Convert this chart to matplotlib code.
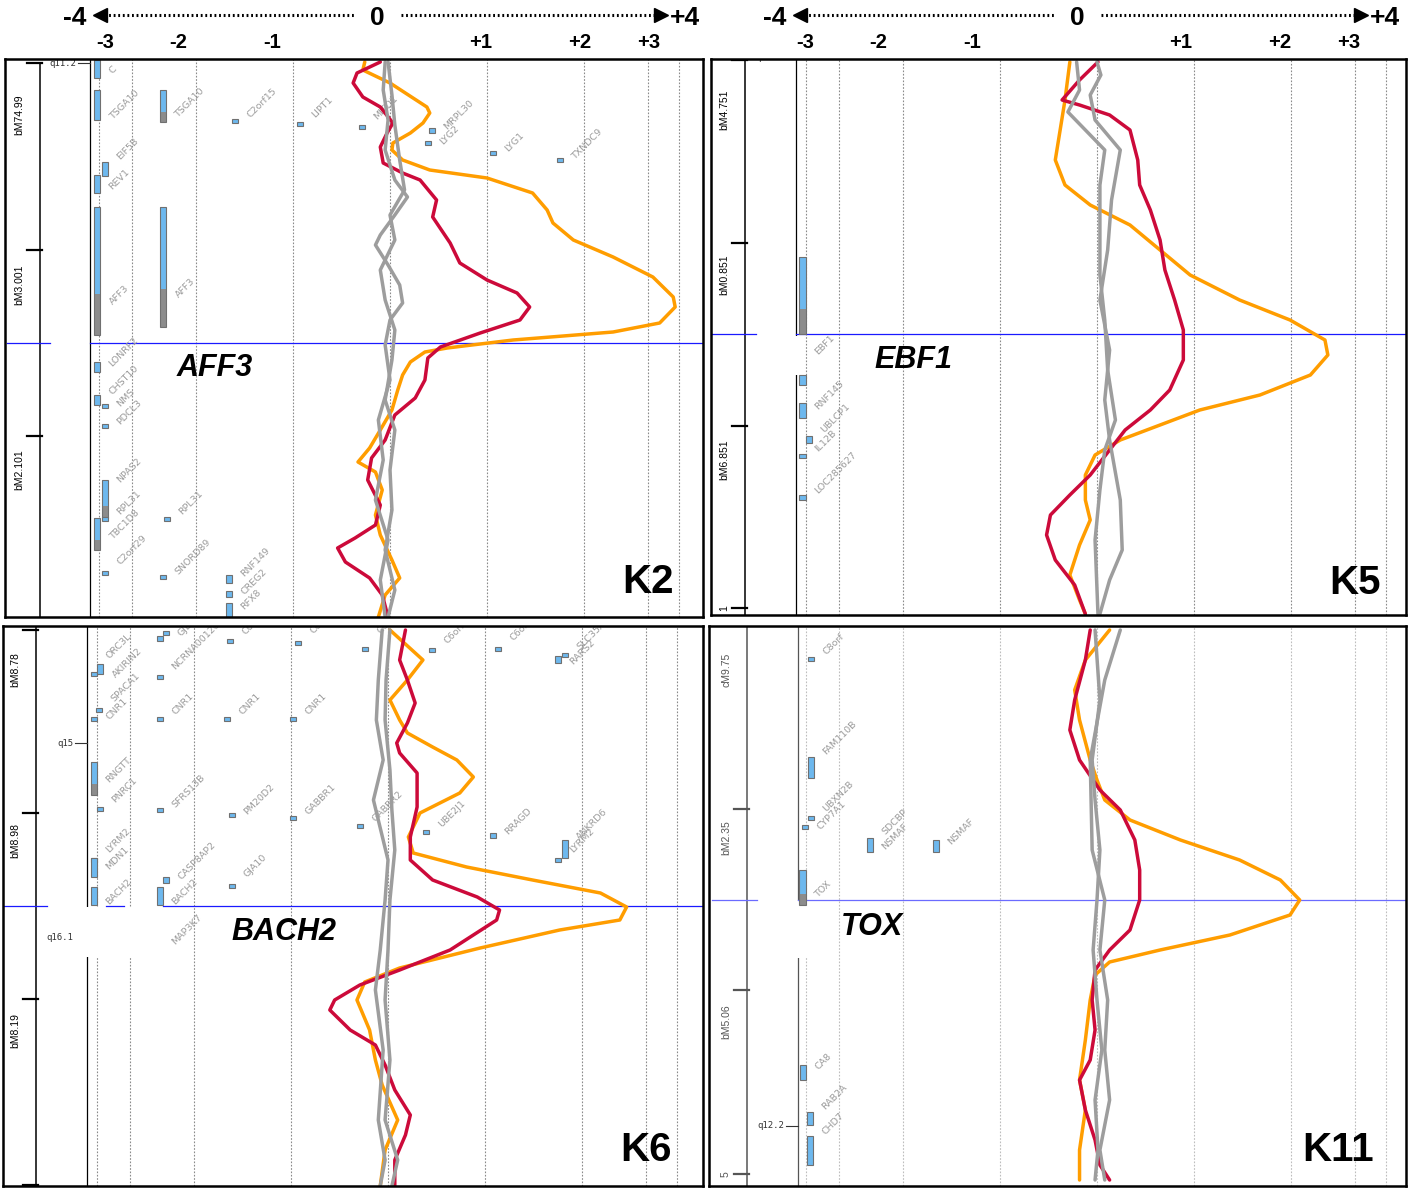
import matplotlib
matplotlib.use("Agg")
import matplotlib.pyplot as plt
import matplotlib.transforms as mtransforms
from matplotlib.patches import Rectangle

W, H = 1408, 1188
PX_PER_UNIT = 97.0   # pixels per score unit in every panel

ORANGE = "#FF9D00"
RED = "#CC0A3A"
GRAY = "#9D9D9D"
BAR_BLUE = "#6DB8EE"
BAR_GRAY = "#8C8C8C"
LABEL_GRAY = "#9B9B9B"

# score gridlines drawn in every panel
grid_scores = [-3, -2.66, -2, -1, 0, 1, 2, 2.66, 2.98]

header_big = ["-4", "0", "+4"]
header_ticks = ["-3", "-2", "-1", "+1", "+2", "+3"]

# ---------------------------------------------------------------- K2 / AFF3
# curves: (score, position) ; position in 10 kb steps from top of window
k2_orange = [(-0.26, 0.3), (-0.28, 1.1), (0.0, 2.4), (0.38, 4.8), (0.41, 5.4), (0.34, 6.4),
             (0.21, 7.4), (0.03, 8.4), (0.02, 9.1), (0.13, 10.1), (0.41, 11.1), (1.0, 11.9),
             (1.47, 13.4), (1.62, 15.1), (1.68, 16.4), (1.89, 18.1), (2.30, 19.8), (2.71, 21.8),
             (2.92, 23.8), (2.94, 24.8), (2.78, 26.4), (2.30, 27.3), (1.27, 28.1), (0.59, 28.9),
             (0.36, 29.3), (0.21, 30.3), (0.13, 31.6), (0.08, 33.1), (0.02, 35.1), (-0.10, 37.1),
             (-0.21, 38.9), (-0.33, 40.3), (-0.15, 41.3), (-0.08, 43.1), (-0.15, 45.6),
             (-0.10, 47.6), (0.02, 50.1), (0.10, 51.9), (-0.05, 53.6), (-0.12, 55.8)]
k2_red = [(-0.10, 0.3), (-0.34, 1.4), (-0.38, 2.4), (-0.28, 3.8), (-0.10, 4.8), (0.03, 6.4),
          (-0.03, 7.4), (-0.10, 8.8), (-0.07, 10.4), (0.13, 11.4), (0.31, 12.1), (0.48, 14.1),
          (0.44, 15.8), (0.62, 18.4), (0.72, 20.4), (1.0, 22.1), (1.31, 23.4), (1.44, 24.8),
          (1.34, 26.1), (0.93, 27.4), (0.52, 28.8), (0.39, 29.9), (0.36, 32.1), (0.26, 33.9),
          (0.05, 35.6), (-0.05, 38.1), (-0.19, 39.9), (-0.23, 42.1), (-0.10, 44.6),
          (-0.15, 46.6), (-0.36, 47.9), (-0.54, 48.9), (-0.46, 50.3), (-0.21, 51.9),
          (-0.08, 53.6), (-0.02, 55.8)]
k2_gray1 = [(-0.05, 0.3), (-0.07, 3.1), (-0.02, 6.1), (-0.05, 9.1), (0.05, 12.1), (0.18, 13.8),
            (0.05, 15.6), (-0.10, 17.6), (-0.15, 18.6), (-0.02, 20.6), (0.10, 22.6), (0.13, 24.4),
            (0.0, 26.1), (-0.05, 28.6), (0.0, 32.1), (-0.12, 36.1), (-0.07, 40.1), (-0.15, 44.1),
            (-0.02, 48.1), (-0.10, 52.1), (-0.05, 55.8)]
k2_gray2 = [(-0.02, 0.3), (0.02, 3.6), (0.05, 6.6), (0.10, 10.1), (0.15, 13.1), (0.0, 15.6),
            (0.05, 18.1), (-0.10, 21.1), (-0.05, 24.1), (0.05, 27.1), (0.02, 30.1), (-0.05, 34.1),
            (0.05, 37.1), (0.0, 41.1), (0.02, 45.1), (-0.05, 49.1), (0.05, 53.1), (-0.02, 55.8)]
# genes: (name, column score, top, bottom, label position)
k2_genes = [("C", -3.02, 0.1, 1.9, 1.5), ("TSGA10", -3.02, 3.1, 6.1, 6.1),
            ("EIF5B", -2.94, 10.3, 11.7, 10.1), ("REV1", -3.02, 11.6, 13.4, 13.1),
            ("AFF3", -3.02, 14.8, 27.6, 24.6), ("LONRF2", -3.02, 30.3, 31.3, 30.8),
            ("CHST10", -3.02, 33.6, 34.6, 33.6), ("NMS", -2.94, 34.5, 34.9, 34.8),
            ("PDCL3", -2.94, 36.5, 36.9, 36.6), ("NPAS2", -2.94, 42.1, 45.9, 42.4),
            ("RPL31", -2.94, 45.8, 46.2, 45.6), ("TBC1D8", -3.02, 45.9, 49.1, 48.1),
            ("C2orf29", -2.94, 51.2, 51.6, 50.6), ("TSGA10", -2.34, 3.1, 6.3, 5.9),
            ("AFF3", -2.34, 14.8, 26.8, 23.9), ("RPL31", -2.30, 45.8, 46.1, 45.6),
            ("SNORD89", -2.34, 51.6, 51.9, 51.6), ("C2orf15", -1.60, 6.0, 6.4, 5.9),
            ("RNF149", -1.66, 51.6, 52.4, 51.8), ("CREG2", -1.66, 53.2, 53.8, 53.6),
            ("RFX8", -1.66, 54.4, 55.8, 55.1), ("LIPT1", -0.93, 6.3, 6.7, 5.9),
            ("MITD1", -0.29, 6.6, 7.0, 6.1), ("MRPL30", 0.43, 6.9, 7.4, 7.1),
            ("LYG2", 0.39, 8.2, 8.5, 8.6), ("LYG1", 1.06, 9.2, 9.6, 9.3),
            ("TXNDC9", 1.75, 9.9, 10.3, 10.1)]
k2_ruler_ticks = [0.4, 19.1, 37.7]
k2_ruler_labels = [("bM74.99", 5.6), ("bM3.001", 22.6), ("bM2.101", 41.1)]
k2_bands = [("q11.2", 0.4)]

# ---------------------------------------------------------------- K5 / EBF1
k5_orange = [(-0.28, 0.3), (-0.33, 4.1), (-0.38, 7.1), (-0.43, 10.1), (-0.33, 12.6),
             (-0.07, 14.6), (0.34, 16.6), (0.65, 19.1), (0.96, 21.6), (1.47, 24.1), (1.99, 26.1),
             (2.35, 28.1), (2.38, 29.6), (2.20, 31.6), (1.68, 33.6), (1.06, 35.1), (0.65, 36.6),
             (0.24, 38.1), (-0.02, 39.6), (-0.12, 41.6), (-0.12, 44.1), (-0.07, 46.1),
             (-0.18, 48.6), (-0.28, 51.6), (-0.18, 54.1), (-0.12, 55.5)]
k5_red = [(0.01, 0.3), (-0.18, 2.1), (-0.36, 4.1), (-0.18, 4.6), (0.13, 5.6), (0.34, 7.1),
          (0.42, 10.1), (0.44, 12.6), (0.55, 15.1), (0.65, 18.1), (0.70, 21.1), (0.80, 24.1),
          (0.89, 27.1), (0.89, 30.1), (0.75, 33.1), (0.55, 35.1), (0.29, 37.1), (0.13, 39.1),
          (-0.07, 41.6), (-0.28, 43.6), (-0.48, 45.6), (-0.52, 47.6), (-0.43, 50.1),
          (-0.23, 52.6), (-0.12, 55.5)]
k5_gray1 = [(-0.21, 0.3), (-0.18, 3.1), (-0.30, 5.3), (-0.12, 7.1), (0.08, 9.1), (0.03, 12.6),
            (0.03, 17.1), (0.03, 21.6), (0.08, 26.1), (0.11, 31.1), (0.19, 36.1), (0.08, 39.1),
            (0.03, 43.1), (-0.02, 48.1), (0.01, 55.5)]
k5_gray2 = [(0.0, 0.3), (0.04, 1.6), (-0.07, 3.6), (-0.02, 6.1), (0.24, 9.1), (0.15, 14.1),
            (0.11, 19.1), (0.03, 24.1), (0.13, 29.1), (0.08, 34.1), (0.13, 38.1), (0.24, 44.1),
            (0.26, 49.1), (0.13, 52.1), (0.03, 55.5)]
k5_genes = [("EBF1", -3.04, 19.8, 27.5, 29.6), ("", -3.04, 31.6, 32.6, 0),
            ("RNF145", -3.04, 34.4, 35.9, 35.1), ("UBLCP1", -2.97, 37.7, 38.4, 37.4),
            ("IL12B", -3.04, 39.5, 39.9, 39.3), ("LOC285627", -3.04, 43.6, 44.1, 43.5)]
k5_ruler_ticks = [0.1, 18.4, 36.7, 54.9]
k5_ruler_labels = [("bM4.751", 5.1), ("bM0.851", 21.6), ("bM6.851", 40.1), ("1", 54.9)]
k5_bands = [("q33.3", -0.2)]

# ---------------------------------------------------------------- K6 / BACH2
k6_orange = [(0.02, 0.4), (0.36, 3.4), (0.20, 5.4), (0.02, 7.4), (0.12, 9.4), (0.20, 10.7),
             (0.46, 12.1), (0.71, 13.4), (0.88, 15.1), (0.74, 16.7), (0.33, 18.7), (0.21, 21.1),
             (0.26, 22.7), (0.81, 24.1), (1.49, 25.4), (2.19, 26.7), (2.46, 28.1), (2.39, 29.4),
             (1.77, 30.4), (0.95, 32.2), (0.12, 34.2), (-0.24, 35.6), (-0.32, 37.4),
             (-0.19, 40.4), (-0.13, 43.4), (-0.06, 45.9), (0.10, 49.4), (-0.03, 52.4),
             (-0.08, 56.0)]
k6_red = [(0.18, 0.4), (0.12, 3.4), (0.20, 5.4), (0.28, 7.7), (0.20, 9.7), (0.09, 11.7),
          (0.12, 12.7), (0.30, 14.7), (0.30, 18.1), (0.23, 21.1), (0.23, 23.4), (0.46, 25.4),
          (0.92, 27.1), (1.15, 28.4), (1.12, 29.4), (0.64, 32.4), (0.12, 34.4), (-0.29, 35.9),
          (-0.55, 37.4), (-0.60, 38.4), (-0.39, 40.4), (-0.13, 41.9), (-0.03, 43.9),
          (0.07, 46.4), (0.23, 48.9), (0.18, 50.9), (0.07, 53.4), (0.07, 56.0)]
k6_gray1 = [(-0.06, 0.4), (-0.10, 5.4), (-0.12, 9.4), (-0.05, 13.4), (-0.15, 17.4),
            (-0.10, 19.4), (0.0, 23.4), (-0.03, 27.4), (-0.08, 32.4), (-0.13, 36.4),
            (-0.05, 42.4), (-0.10, 49.4), (-0.03, 53.4), (-0.08, 56.0)]
k6_gray2 = [(0.02, 0.4), (-0.02, 5.4), (-0.03, 9.4), (0.02, 14.4), (0.04, 18.4), (0.07, 22.4),
            (0.02, 27.4), (0.0, 32.4), (-0.03, 37.4), (0.02, 43.4), (-0.03, 49.4),
            (0.10, 53.4), (0.04, 56.0)]
k6_genes = [("GJB", -2.29, 0.5, 0.9, 1.1), ("", -2.35, 1.0, 1.5, 0),
            ("C6orf", -1.63, 1.3, 1.6, 0.9), ("C6orf", -0.93, 1.5, 1.8, 0.8),
            ("C6orf", -0.24, 2.1, 2.4, 0.8), ("C6orf", 0.45, 2.2, 2.6, 1.8),
            ("C6orf", 1.13, 2.1, 2.3, 1.5), ("SLC35A", 1.82, 2.7, 3.1, 2.4),
            ("RARS2", 1.75, 3.0, 3.7, 3.9), ("ORC3L", -3.03, 4.6, 5.0, 3.3),
            ("AKIRIN2", -2.97, 3.8, 4.8, 5.2), ("NCRNA00120", -2.35, 4.9, 5.2, 4.4),
            ("SPACA1", -2.98, 8.2, 8.4, 7.6), ("CNR1", -3.03, 9.1, 9.3, 9.4),
            ("CNR1", -2.35, 9.1, 9.3, 8.9), ("CNR1", -1.66, 9.1, 9.3, 8.9),
            ("CNR1", -0.98, 9.1, 9.3, 8.9), ("RNGTT", -3.03, 13.6, 16.9, 15.7),
            ("PNRC1", -2.97, 18.1, 18.3, 17.7), ("SFRS13B", -2.35, 18.2, 18.5, 18.2),
            ("PM20D2", -1.61, 18.7, 18.9, 18.9), ("GABBR1", -0.98, 19.0, 19.4, 18.9),
            ("GABRR2", -0.29, 19.8, 20.2, 19.6), ("UBE2J1", 0.39, 20.4, 20.6, 20.2),
            ("RRAGD", 1.08, 20.7, 21.2, 20.9), ("ANKRD6", 1.82, 21.4, 23.2, 21.4),
            ("LYRM2", 1.75, 23.2, 23.4, 22.7), ("LYRM2", -3.03, 23.2, 23.4, 22.7),
            ("MDN1", -3.03, 23.2, 25.1, 24.4), ("CASP8AP2", -2.29, 25.1, 25.7, 25.4),
            ("GJA10", -1.61, 25.8, 26.0, 25.2), ("BACH2", -3.03, 26.1, 27.9, 27.9),
            ("BACH2", -2.35, 26.1, 27.9, 27.9), ("MAP3K7", -2.35, 0, 0, 31.9)]
k6_ruler_ticks = [0.4, 18.7, 37.3, 55.9]
k6_ruler_labels = [("bM8.78", 4.4), ("bM8.98", 21.4), ("bM8.19", 40.4)]
k6_bands = [("q15", 11.7), ("q16.1", 31.1)]

# ---------------------------------------------------------------- K11 / TOX
k11_orange = [(0.13, 0.4), (-0.12, 3.4), (-0.23, 6.4), (-0.18, 9.4), (-0.07, 13.4), (0.0, 15.4),
              (0.08, 17.4), (0.34, 19.4), (0.86, 21.4), (1.47, 23.4), (1.89, 25.4), (2.09, 27.4),
              (1.99, 28.9), (1.37, 30.9), (0.65, 32.4), (0.13, 33.6), (-0.02, 34.9),
              (-0.07, 37.4), (-0.12, 41.4), (-0.18, 45.4), (-0.12, 48.4), (-0.18, 52.4),
              (-0.18, 55.4)]
k11_red = [(-0.07, 0.4), (-0.12, 3.4), (-0.23, 7.4), (-0.28, 10.4), (-0.18, 13.4), (0.03, 16.4),
           (0.24, 18.4), (0.39, 21.4), (0.44, 24.4), (0.44, 27.4), (0.34, 30.4), (0.13, 32.4),
           (-0.02, 34.4), (-0.05, 37.4), (-0.02, 40.4), (-0.07, 43.4), (-0.18, 45.4),
           (-0.12, 48.4), (-0.02, 51.4), (0.03, 53.9), (0.13, 55.4)]
k11_gray1 = [(-0.02, 0.4), (0.03, 7.4), (-0.05, 13.4), (-0.02, 17.4), (0.03, 22.4), (0.0, 27.4),
             (-0.04, 32.4), (0.0, 37.4), (0.05, 42.4), (-0.02, 47.4), (0.01, 52.4),
             (-0.02, 55.4)]
k11_gray2 = [(0.24, 0.4), (0.08, 5.4), (-0.07, 13.4), (-0.05, 22.4), (0.08, 27.4), (0.03, 32.4),
             (0.11, 37.4), (0.08, 42.4), (0.13, 47.4), (0.03, 52.4), (0.08, 55.4)]
k11_genes = [("C8orf", -2.95, 3.1, 3.3, 2.9), ("FAM110B", -2.95, 13.1, 15.2, 12.9),
             ("UBXN2B", -2.95, 19.0, 19.4, 18.6), ("CYP7A1", -3.01, 19.9, 20.1, 20.4),
             ("SDCBP", -2.34, 21.2, 22.6, 20.9), ("NSMAF", -2.34, 0, 0, 22.4),
             ("NSMAF", -1.66, 21.4, 22.6, 21.9), ("TOX", -3.04, 24.4, 27.9, 27.2),
             ("CA8", -3.03, 43.9, 45.4, 44.4), ("RAB2A", -2.96, 48.6, 49.9, 48.4),
             ("CHD7", -2.96, 51.0, 53.9, 50.9)]
k11_ruler_ticks = [18.3, 36.4, 54.8]
k11_ruler_labels = [("cM9.75", 4.4), ("bM2.35", 21.2), ("bM5.06", 39.6), ("5", 54.8)]
k11_bands = [("q12.2", 50.0)]

# panel layout (figure pixels for box, local panel pixels for the rest)
panels = [
    dict(name="K2", gene="AFF3", box=(5, 59, 703, 617), zero=385, hit=28.4,
         curves=(k2_orange, k2_red, k2_gray1, k2_gray2), genes=k2_genes,
         ruler=(k2_ruler_ticks, k2_ruler_labels), bands=k2_bands,
         ruler_x=35, track_x=85, blue=[(2, 45), (85, 698)], white=[],
         gene_xy=(210, 309), k_xy=(643, 523), grid="#8A8A8A", line="#1A1AFF", rcol="black"),
    dict(name="K5", gene="EBF1", box=(711, 59, 1406, 615), zero=386, hit=27.5,
         curves=(k5_orange, k5_red, k5_gray1, k5_gray2), genes=k5_genes,
         ruler=(k5_ruler_ticks, k5_ruler_labels), bands=k5_bands,
         ruler_x=34, track_x=85, blue=[(1, 45), (85, 695)], white=[(46, 277, 44, 39)],
         gene_xy=(202, 301), k_xy=(644, 524), grid="#8A8A8A", line="#1A1AFF", rcol="black"),
    dict(name="K6", gene="BACH2", box=(3, 626, 703, 1186), zero=385, hit=28.0,
         curves=(k6_orange, k6_red, k6_gray1, k6_gray2), genes=k6_genes,
         ruler=(k6_ruler_ticks, k6_ruler_labels), bands=k6_bands,
         ruler_x=33, track_x=84, blue=[(0, 44), (103, 121), (160, 700)],
         white=[(42, 281, 118, 50)],
         gene_xy=(281, 306), k_xy=(643, 524), grid="#8A8A8A", line="#1A1AFF", rcol="black"),
    dict(name="K11", gene="TOX", box=(709, 626, 1406, 1186), zero=388, hit=27.4,
         curves=(k11_orange, k11_red, k11_gray1, k11_gray2), genes=k11_genes,
         ruler=(k11_ruler_ticks, k11_ruler_labels), bands=k11_bands,
         ruler_x=38, track_x=89, blue=[(3, 48), (89, 697)], white=[(50, 275, 49, 57)],
         gene_xy=(163, 301), k_xy=(629, 524), grid="#BDBDBD", line="#6B6BFF", rcol="#555555"),
]

NARROW = ["Liberation Sans Narrow", "Liberation Sans", "DejaVu Sans"]
SANS = ["Liberation Sans", "DejaVu Sans"]


def draw_panel(fig, cfg):
    L, T, R, B = cfg["box"]
    w, h = R - L, B - T
    ax = fig.add_axes([L / W, 1 - B / H, w / W, h / H])
    z = cfg["zero"]
    ax.set_xlim(-z / PX_PER_UNIT, (w - z) / PX_PER_UNIT)
    ax.set_ylim(h / 10.0, 0)
    ax.set_xticks([])
    ax.set_yticks([])
    for s in ax.spines.values():
        s.set_linewidth(1.8)
        s.set_zorder(10)

    # local pixel transform (origin top-left of the panel) for layout bits
    loc = mtransforms.Affine2D().scale(1.0 / w, -1.0 / h).translate(0, 1) + ax.transAxes
    bt = mtransforms.blended_transform_factory(loc, ax.transData)

    for g in grid_scores:
        ax.axvline(g, color=cfg["grid"], lw=0.8, ls=(0, (1.5, 1.5)), zorder=1)

    # map ruler
    ticks, labels = cfg["ruler"]
    rx = cfg["ruler_x"]
    top = ticks[0] if cfg["name"] in ("K2", "K5") else 0
    ax.plot([rx, rx], [top, h / 10.0], transform=bt, color=cfg["rcol"], lw=1.1, zorder=2)
    for t in ticks:
        ax.plot([rx - 13, rx + 2], [t, t], transform=bt, color=cfg["rcol"], lw=1.6, zorder=2)
    for txt, y in labels:
        ax.text(rx - 21, y, txt, transform=bt, rotation=90, ha="center", va="center",
                fontsize=7.5, family=SANS, color=cfg["rcol"], clip_on=True)

    tx = cfg["track_x"]
    ax.plot([tx, tx], [0, h / 10.0], transform=bt, color=cfg["rcol"], lw=0.9, zorder=2)
    for txt, y in cfg["bands"]:
        ax.text(tx - 14, y, txt, transform=bt, ha="right", va="center", fontsize=6.5,
                family="DejaVu Sans Mono", color="#333333", clip_on=True)
        ax.plot([tx - 12, tx], [y, y], transform=bt, color="#333333", lw=0.8)

    # locus marker
    for a, b in cfg["blue"]:
        ax.plot([a, b], [cfg["hit"], cfg["hit"]], transform=bt, color=cfg["line"], lw=0.9,
                zorder=2.5)

    for (x, y, ww, hh) in cfg["white"]:
        ax.add_patch(Rectangle((x, y), ww, hh, transform=loc, fc="white", ec="none",
                               zorder=2.2))

    # gene track
    for name, col, y0, y1, ly in cfg["genes"]:
        if y1 > y0:
            if y1 - y0 > 3:
                split = y0 + 0.68 * (y1 - y0)
                ax.add_patch(Rectangle((col - 0.03, y0), 0.065, split - y0, fc=BAR_BLUE,
                                       ec="none", zorder=3))
                ax.add_patch(Rectangle((col - 0.03, split), 0.065, y1 - split, fc=BAR_GRAY,
                                       ec="none", zorder=3))
                ax.add_patch(Rectangle((col - 0.03, y0), 0.065, y1 - y0, fc="none",
                                       ec="#707070", lw=0.8, zorder=3))
            else:
                ax.add_patch(Rectangle((col - 0.03, y0), 0.065, max(y1 - y0, 0.35),
                                       fc=BAR_BLUE, ec="#707070", lw=0.8, zorder=3))
        if name:
            ax.text(col + 0.16, ly, name, rotation=45, rotation_mode="anchor", ha="left",
                    va="baseline", fontsize=6.8, color=LABEL_GRAY, family="DejaVu Sans",
                    zorder=3, clip_on=True)

    orange, red, gray1, gray2 = cfg["curves"]
    for pts, c in ((orange, ORANGE), (red, RED), (gray1, GRAY), (gray2, GRAY)):
        ax.plot([p[0] for p in pts], [p[1] for p in pts], color=c, lw=2.5, zorder=5,
                solid_joinstyle="round", solid_capstyle="round")

    gx, gy = cfg["gene_xy"]
    ax.text(gx, gy, cfg["gene"], transform=loc, ha="center", va="center", fontsize=22,
            fontweight="bold", fontstyle="italic", family=SANS, zorder=8)
    kx, ky = cfg["k_xy"]
    ax.text(kx, ky, cfg["name"], transform=loc, ha="center", va="center", fontsize=29,
            fontweight="bold", family=SANS, zorder=8)
    return ax


fig = plt.figure(figsize=(W / 100, H / 100), dpi=100)

for cfg in panels:
    draw_panel(fig, cfg)

# header scale above each column of panels
hdr = fig.add_axes([0, 0, 1, 1], zorder=20)
hdr.set_xlim(0, W)
hdr.set_ylim(H, 0)
hdr.axis("off")
big_x = [75, 377, 685]
tick_x = [105, 178, 272, 481, 580, 649]
for d in (0, 700):
    for txt, x in zip(header_big, big_x):
        hdr.text(x + d, 18, txt, ha="center", va="center", fontsize=19, fontweight="bold",
                 family=NARROW)
    hdr.plot([104 + d, 354 + d], [15, 15], color="black", lw=2.2, ls=(0, (0.6, 0.9)))
    hdr.plot([100 + d], [15], marker="<", ms=10, color="black")
    hdr.plot([401 + d, 657 + d], [15, 15], color="black", lw=2.2, ls=(0, (0.6, 0.9)))
    hdr.plot([661 + d], [15], marker=">", ms=10, color="black")
    for txt, x in zip(header_ticks, tick_x):
        hdr.text(x + d, 42, txt, ha="center", va="center", fontsize=14.5, fontweight="bold",
                 family=NARROW)

fig.savefig("out.png", dpi=100)
